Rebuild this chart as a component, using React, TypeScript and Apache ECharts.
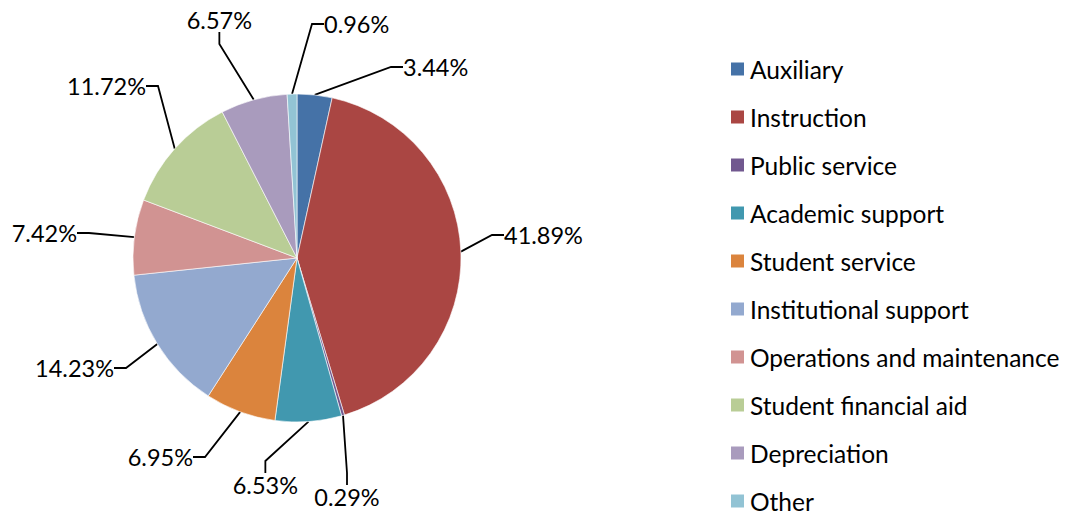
import React, { useEffect, useRef } from "react";
import * as echarts from "echarts";

const categories = [
  "Auxiliary",
  "Instruction",
  "Public service",
  "Academic support",
  "Student service",
  "Institutional support",
  "Operations and maintenance",
  "Student financial aid",
  "Depreciation",
  "Other",
];
const shares = [3.44, 41.89, 0.29, 6.53, 6.95, 14.23, 7.42, 11.72, 6.57, 0.96];
const colors = [
  "#4572A7",
  "#AA4643",
  "#71588F",
  "#4198AF",
  "#DB843D",
  "#93A9CF",
  "#D19392",
  "#B9CD96",
  "#A99BBD",
  "#92C3D4",
];

// manual label placement (like Excel's label positions): [x, y, align]
const labelPlacement: [number, number, string][] = [
  [389, 59, "left"],
  [490, 227, "left"],
  [339, 489, "center"],
  [296, 477, "right"],
  [191, 449, "right"],
  [112, 360, "right"],
  [75, 225, "right"],
  [144, 78, "right"],
  [250, 12, "right"],
  [310, 16, "left"],
];

const FONT = "Lato, 'Open Sans', sans-serif";

export default function App() {
  const ref = useRef<HTMLDivElement>(null);
  useEffect(() => {
    if (!ref.current) return;
    const chart = echarts.init(ref.current, undefined, { renderer: "svg" });
    chart.setOption({
      animation: false,
      color: colors,
      textStyle: { fontFamily: FONT },
      legend: {
        orient: "vertical",
        left: 721,
        top: 47,
        padding: 0,
        itemWidth: 15,
        itemHeight: 15,
        itemGap: 20,
        icon: "rect",
        textStyle: { fontSize: 24.5, lineHeight: 28, color: "#000", fontFamily: FONT },
        data: categories,
      },
      series: [
        {
          type: "pie",
          center: [289, 250],
          radius: 164,
          startAngle: 90,
          clockwise: true,
          avoidLabelOverlap: false,
          itemStyle: { borderColor: "#fff", borderWidth: 0.6 },
          label: {
            show: true,
            position: "outside",
            formatter: (p: any) => p.value.toFixed(2) + "%",
            fontSize: 23.5,
            padding: [0, 6, 0, 6],
            color: "#000",
            fontFamily: FONT,
          },
          labelLine: {
            show: true,
            length: 20,
            length2: 12,
            lineStyle: { color: "#000", width: 1.8 },
          },
          labelLayout: (params: any) => {
            const p = labelPlacement[params.dataIndex];
            return { x: p[0], y: p[1], align: p[2], verticalAlign: "middle" };
          },
          data: categories.map((name, i) => ({ name, value: shares[i] })),
        },
      ],
    });
    return () => chart.dispose();
  }, []);
  return <div ref={ref} style={{ width: 1062, height: 512 }} />;
}
